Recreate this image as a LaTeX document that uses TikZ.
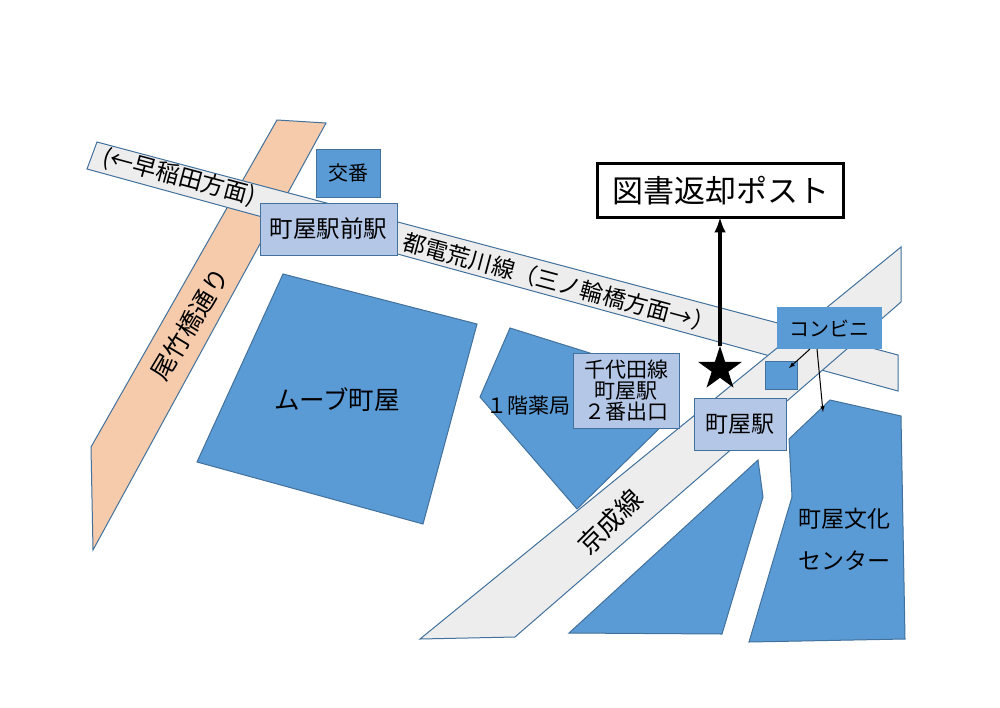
\documentclass[tikz,border=0pt]{standalone}
\usepackage{fontspec}
\setmainfont{Noto Sans CJK JP}
\usetikzlibrary{shapes.geometric}
\definecolor{peach}{HTML}{F6CBAC}
\definecolor{shopblue}{HTML}{5B9BD5}
\definecolor{stblue}{HTML}{B4C7E7}
\definecolor{edgeblue}{HTML}{41719C}
\newcommand{\fs}[1]{\fontsize{#1}{#1}\selectfont}
\tikzset{every node/.style={inner sep=0pt,outer sep=0pt,align=center}}
\tikzset{rail/.style={fill=black!7,draw=edgeblue,line width=1pt}}
\tikzset{road/.style={fill=peach,draw=edgeblue,line width=1pt}}
\tikzset{bld/.style={fill=shopblue,draw=edgeblue,line width=1pt}}
\tikzset{st/.style={rectangle,fill=stblue,draw=edgeblue,line width=1pt}}
\tikzset{a/.style={black,line width=1pt,->,>=latex}}

\begin{document}
\begin{tikzpicture}[x=1pt,y=-1pt]
      \useasboundingbox (0,0) rectangle (1000,707);
      % roads and railways
      \draw[road] (277,120) -- (326,123) -- (93,550) -- (91,447) -- cycle;
      \draw[rail] (97,142) -- (898,355) -- (898,391) -- (87,169) -- cycle;
      \draw[rail] (420,639) -- (901,247) -- (901,302) -- (515,637) -- cycle;
      % blocks
      \draw[bld] (283,274) -- (477,324) -- (423,524) -- (197,462) -- cycle;
      \draw[bld] (510,328) -- (660,375) -- (672,416) -- (577,509) -- (480,397) -- cycle;
      \draw[bld] (569,633) -- (758,460) -- (763,497) -- (722,634) -- cycle;
      \draw[bld] (830,400) -- (901,416) -- (905,639) -- (749,642) -- (792,497) -- (789,439) -- cycle;
      % labels
      \node[rotate=-15,font=\fs{23.5}] (W) at (179,177) {(←早稲田方面)};
      \node[rotate=-15,font=\fs{23}] (E) at (559,283) {都電荒川線（三ノ輪橋方面→）};
      \node[rotate=59,font=\fs{25}] (O) at (190,324) {尾竹橋通り};
      \node[rotate=45,font=\fs{26}] (K) at (610,522) {京成線};
      \node[font=\fs{25.5}] (M) at (337,400) {ムーブ町屋};
      \node[font=\fs{21}] (Y) at (528,406) {１階薬局};
      \node[font=\fs{23}] (B1) at (844,519) {町屋文化};
      \node[font=\fs{23}] (B2) at (844,561) {センター};
      % boxes
      \node[st,fill=shopblue,minimum width=64pt,minimum height=48pt,font=\fs{20}] (P) at (348,173) {交番};
      \node[st,minimum width=137pt,minimum height=52pt,font=\fs{23.5}] (S1) at (328.5,229) {町屋駅前駅};
      \node[st,minimum width=106pt,minimum height=75pt,font=\fs{21}] (S2) at (626,390.5) {千代田線\\町屋駅\\２番出口};
      \node[st,minimum width=92pt,minimum height=52pt,font=\fs{23}] (S3) at (740,424) {町屋駅};
      \node[rectangle,fill=shopblue,minimum width=105pt,minimum height=42pt,font=\fs{20}] (C) at (829.5,328) {コンビニ};
      \node[st,fill=shopblue,minimum width=32pt,minimum height=28pt] (C1) at (781,375) {};
      \node[rectangle,draw=black,line width=2.5pt,fill=white,minimum width=246pt,minimum height=54pt,font=\fs{31}] (T) at (720.5,190.5) {図書返却ポスト};
      \node[star,star points=5,star point ratio=2.618,fill=black,minimum size=46pt] (G) at (720,369) {};
      \coordinate (C2) at (789,368);
      \coordinate (B) at (823,412);
      \draw[a] (810,349) -- (C2);
      \draw[a] (817,349) -- (B);
      \draw[black,line width=4pt,->,>=latex] (G.north) -- (T.south -| G);
    \end{tikzpicture}
\end{document}
